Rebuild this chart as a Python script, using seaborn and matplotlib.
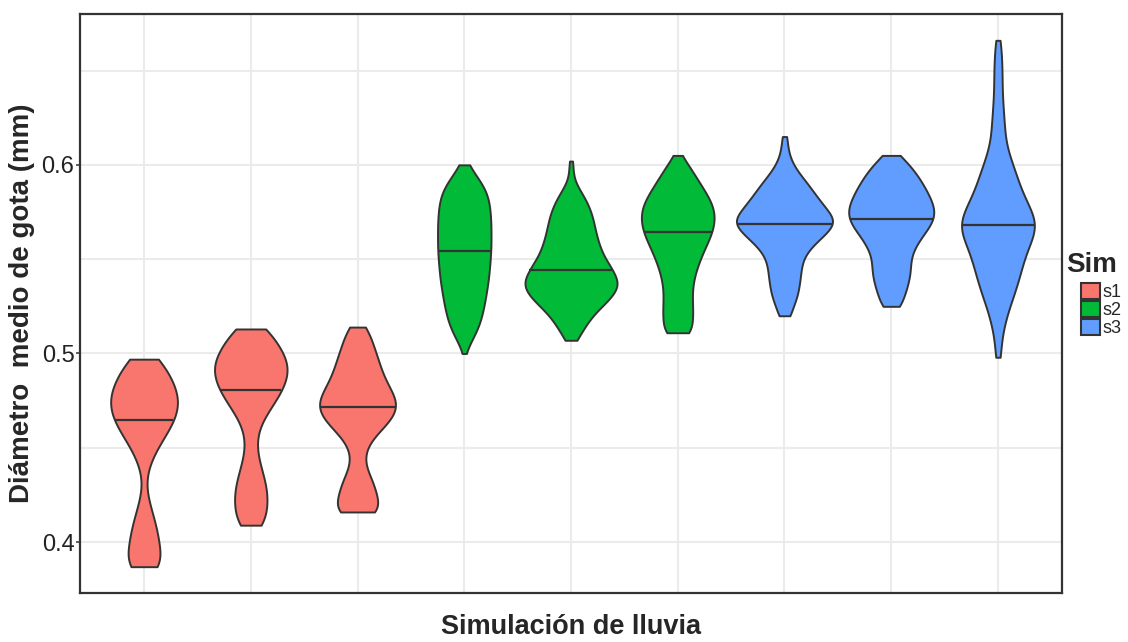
import numpy as np
import pandas as pd
import matplotlib
matplotlib.use("Agg")
import matplotlib.pyplot as plt
from matplotlib.patches import Patch
from matplotlib.ticker import FixedLocator
import seaborn as sns

# Drop-diameter classes (mm) and relative frequency of drops in each class,
# one pair of lists per rain simulation.
diam_1 = [0.387, 0.392, 0.397, 0.402, 0.407, 0.412, 0.417, 0.422, 0.427, 0.432, 0.437, 0.442,
          0.447, 0.452, 0.457, 0.462, 0.467, 0.472, 0.477, 0.482, 0.487, 0.492, 0.497]
freq_1 = [50, 30, 30, 28, 25, 20, 14, 9, 4, 2, 5, 12, 19, 30, 42, 54, 63, 68, 67, 62, 53, 40, 38]

diam_2 = [0.409, 0.414, 0.419, 0.424, 0.429, 0.434, 0.439, 0.444, 0.449, 0.454, 0.459,
          0.464, 0.469, 0.474, 0.479, 0.484, 0.489, 0.494, 0.499, 0.504, 0.509, 0.513]
freq_2 = [30, 29, 32, 33, 31, 26, 21, 15, 11, 10, 14, 21, 33, 46, 58, 67, 73, 74, 67, 55, 40, 32]

diam_3 = [0.416, 0.421, 0.426, 0.431, 0.436, 0.441, 0.446, 0.451, 0.456, 0.461, 0.466,
          0.471, 0.476, 0.481, 0.486, 0.491, 0.496, 0.501, 0.506, 0.511, 0.514]
freq_3 = [55, 37, 36, 31, 22, 13, 12, 17, 30, 50, 67, 77, 74, 62, 52, 45, 40, 34, 28, 20, 12]

diam_4 = [0.500, 0.505, 0.510, 0.515, 0.520, 0.525, 0.530, 0.535, 0.540, 0.545, 0.550,
          0.555, 0.560, 0.565, 0.570, 0.575, 0.580, 0.585, 0.590, 0.595, 0.600]
freq_4 = [1, 11, 22, 30, 35, 40, 43, 46, 48, 50, 52, 53, 53, 53, 53, 52, 50, 46, 36, 22, 9]

diam_5 = [0.507, 0.512, 0.517, 0.522, 0.527, 0.532, 0.537, 0.542, 0.547, 0.552,
          0.557, 0.562, 0.567, 0.572, 0.577, 0.582, 0.587, 0.592, 0.597, 0.602]
freq_5 = [11, 22, 33, 48, 68, 85, 93, 85, 74, 62, 55, 50, 46, 42, 36, 28, 16, 6, 4, 4]

diam_6 = [0.511, 0.516, 0.521, 0.526, 0.531, 0.536, 0.541, 0.546, 0.551, 0.556,
          0.561, 0.566, 0.571, 0.576, 0.581, 0.586, 0.591, 0.596, 0.601, 0.605]
freq_6 = [32, 28, 30, 29, 28, 29, 33, 39, 46, 54, 63, 70, 74, 72, 65, 54, 42, 30, 19, 4]

diam_7 = [0.520, 0.525, 0.530, 0.535, 0.540, 0.545, 0.550, 0.555, 0.560, 0.565,
          0.570, 0.575, 0.580, 0.585, 0.590, 0.595, 0.600, 0.605, 0.610, 0.615]
freq_7 = [11, 16, 23, 27, 29, 31, 34, 44, 62, 82, 95, 82, 68, 55, 43, 28, 16, 9, 6, 5]

diam_8 = [0.525, 0.530, 0.535, 0.540, 0.545, 0.550, 0.555, 0.560, 0.565,
          0.570, 0.575, 0.580, 0.585, 0.590, 0.595, 0.600, 0.605]
freq_8 = [19, 25, 31, 36, 38, 39, 45, 56, 70, 83, 87, 82, 73, 63, 51, 36, 17]

diam_9 = [0.498, 0.503, 0.508, 0.513, 0.518, 0.523, 0.528, 0.533, 0.538, 0.543, 0.548, 0.553,
          0.558, 0.563, 0.568, 0.573, 0.578, 0.583, 0.588, 0.593, 0.598, 0.603, 0.608, 0.613,
          0.618, 0.623, 0.628, 0.633, 0.638, 0.643, 0.648, 0.653, 0.658, 0.663, 0.666]
freq_9 = [6, 5, 6, 10, 14, 19, 25, 31, 36, 41, 45, 50, 58, 66, 72, 66, 56, 48, 40, 35, 30, 23,
          17, 13, 12, 11, 10, 9, 8, 8, 8, 7, 6, 5, 4]

# Simulation identifiers, their group and number of drops measured
simulations = ["1", "2", "3", "4", "5", "6", "7", "8", "9"]
sim_group = ["s1", "s1", "s1", "s2", "s2", "s2", "s3", "s3", "s3"]
n_drops = [660, 720, 750, 530, 910, 720, 950, 840, 720]

groups = ["s1", "s2", "s3"]
group_colors = ["#F8766D", "#00BA38", "#619CFF"]

diam_lists = [diam_1, diam_2, diam_3, diam_4, diam_5, diam_6, diam_7, diam_8, diam_9]
freq_lists = [freq_1, freq_2, freq_3, freq_4, freq_5, freq_6, freq_7, freq_8, freq_9]

# Expand the class frequencies into individual drop observations
frames = []
for sim, grp, n, d, f in zip(simulations, sim_group, n_drops, diam_lists, freq_lists):
    f = np.asarray(f, dtype=float)
    counts = np.maximum(np.round(f / f.sum() * n).astype(int), 1)
    vals = np.repeat(np.asarray(d), counts)
    frames.append(pd.DataFrame({"sim": sim, "Sim": grp, "diam": vals}))
df = pd.concat(frames, ignore_index=True)

# ---- figure --------------------------------------------------------------
sns.set_theme(style="white")
plt.rcParams["font.family"] = ["Liberation Sans", "DejaVu Sans"]

W, H = 1128, 642
fig = plt.figure(figsize=(W / 100, H / 100), dpi=100)
ax = fig.add_axes([80 / W, 49 / H, 982 / W, 579 / H])

edge = "#333333"
sns.violinplot(
    data=df, x="sim", y="diam", hue="Sim", order=simulations, hue_order=groups,
    palette=group_colors, dodge=False, cut=0, inner=None,
    density_norm="count", common_norm=True, bw_method=0.2, width=0.9,
    linewidth=1.4, linecolor=edge, saturation=1, legend=False, ax=ax,
)

# Median line of each violin, taken from the density outline (50 % of the area)
for coll in list(ax.collections):
    verts = coll.get_paths()[0].vertices
    cx = 0.5 * (verts[:, 0].min() + verts[:, 0].max())
    right = verts[verts[:, 0] > cx]
    y, idx = np.unique(right[:, 1], return_index=True)
    hw = right[idx, 0] - cx
    cum = np.concatenate([[0.0], np.cumsum(0.5 * (hw[1:] + hw[:-1]) * np.diff(y))])
    ymed = np.interp(0.5 * cum[-1], cum, y)
    wmed = np.interp(ymed, y, hw)
    ax.plot([cx - wmed, cx + wmed], [ymed, ymed], color=edge, lw=1.6,
            solid_capstyle="butt", zorder=3)

# Axis ranges with 5 % padding on the value axis
lo, hi = df["diam"].min(), df["diam"].max()
pad = 0.05 * (hi - lo)
ax.set_ylim(lo - pad, hi + pad)
ax.set_xlim(-0.6, len(simulations) - 0.4)

ax.set_yticks([0.4, 0.5, 0.6])
ax.set_yticklabels(["0.4", "0.5", "0.6"])
ax.yaxis.set_minor_locator(FixedLocator([0.45, 0.55, 0.65]))
ax.set_axisbelow(True)
ax.grid(True, which="major", color="#EBEBEB", lw=1.5)
ax.grid(True, which="minor", axis="y", color="#EBEBEB", lw=1.5)

ax.tick_params(axis="x", length=0, labelbottom=False)
ax.tick_params(axis="y", which="major", length=3, width=1.1, color=edge,
               labelsize=17, labelcolor="#222222", pad=1, left=True)
ax.tick_params(axis="y", which="minor", length=0)

for sp in ax.spines.values():
    sp.set_visible(True)
    sp.set_color(edge)
    sp.set_linewidth(1.6)

ax.set_xlabel("Simulación de lluvia", fontsize=19.5, fontweight="bold", labelpad=15)
ax.set_ylabel("Diámetro  medio de gota (mm)", fontsize=20, fontweight="bold", labelpad=5)

# Legend for the simulation groups
fig.text(1066 / W, 1 - 272 / H, "Sim", fontsize=20, fontweight="bold",
         ha="left", va="baseline")
handles = [Patch(facecolor=c, edgecolor=edge, linewidth=1.5) for c in group_colors]
ax.legend(handles, groups, loc="upper left", bbox_to_anchor=(1081 / W, 1 - 283 / H),
          bbox_transform=fig.transFigure, frameon=False, fontsize=13,
          borderpad=0, borderaxespad=0, handlelength=1.05, handleheight=0.96,
          handletextpad=0.12, labelspacing=0.0)

fig.savefig("out.png", dpi=100)
